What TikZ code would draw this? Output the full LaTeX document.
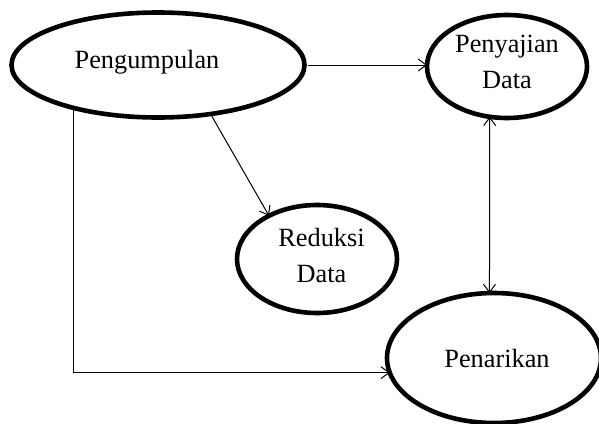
\documentclass[tikz,border=0pt]{standalone}
\usepackage{fontspec}
\setmainfont{Liberation Serif}
\usetikzlibrary{arrows.meta,shapes.geometric}
\begin{document}
\begin{tikzpicture}[x=1pt,y=-1pt,
  oval/.style={draw=black,line width=4.6pt,ellipse,inner sep=0pt,outer sep=0pt},
  lbl/.style={inner sep=0pt,align=center,font=\fontsize{26.3pt}{35.5pt}\selectfont},
  conn/.style={draw=black,line width=1pt,-{Straight Barb[length=8pt,width=12pt,line width=1pt]}}
]
\useasboundingbox (0,0) rectangle (599,423);
\node[oval,minimum width=293pt,minimum height=105pt] (peng) at (158,65) {};
\node[oval,minimum width=160pt,minimum height=103pt] (peny) at (507,66.5) {};
\node[oval,minimum width=160pt,minimum height=108pt] (red) at (317,259) {};
\node[oval,minimum width=214pt,minimum height=130pt] (pen) at (494,358) {};
\node[lbl,anchor=base] (tpeng) at (147,68) {Pengumpulan};
\node[lbl] (tpeny) at (507,62) {Penyajian\\Data};
\node[lbl] (tred) at (321.5,255.5) {Reduksi\\Data};
\node[lbl,anchor=base] (tpen) at (497,367) {Penarikan};
\draw[conn] ([xshift=3pt]peng.east) -- (peng.east -| peny.west);
\draw[conn] (peng.-43) -- (red.138.7);
\draw[conn,{Straight Barb[length=8pt,width=12pt,line width=1pt]}-{Straight Barb[length=8pt,width=12pt,line width=1pt]}] (peny.-109.7) -- (pen.94.4);
\draw[conn] (peng.207.5) |- (pen.188.8);
\end{tikzpicture}
\end{document}
